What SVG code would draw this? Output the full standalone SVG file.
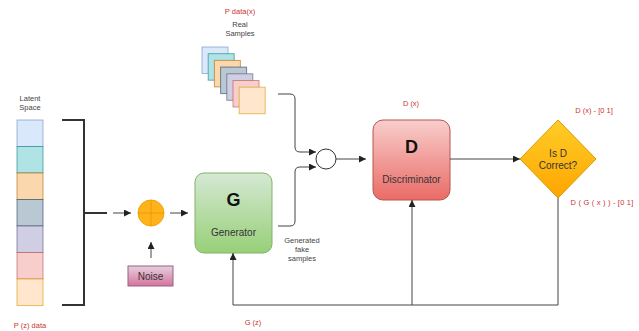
<svg xmlns="http://www.w3.org/2000/svg" width="639" height="331" viewBox="0 0 639 331">
<defs>
<linearGradient id="gG" x1="0" y1="0" x2="0" y2="1"><stop offset="0" stop-color="#d5e8d4"/><stop offset="1" stop-color="#97d077"/></linearGradient>
<linearGradient id="gD" x1="0" y1="0" x2="0" y2="1"><stop offset="0" stop-color="#f8cecc"/><stop offset="1" stop-color="#ea6b66"/></linearGradient>
<linearGradient id="gY" x1="0" y1="0" x2="0" y2="1"><stop offset="0" stop-color="#ffcd28"/><stop offset="1" stop-color="#ffa500"/></linearGradient>
<linearGradient id="gN" x1="0" y1="0" x2="0" y2="1"><stop offset="0" stop-color="#e6d0de"/><stop offset="1" stop-color="#d5739d"/></linearGradient>
<marker id="ar" viewBox="0 0 10 10" refX="10" refY="5" markerWidth="7" markerHeight="7" markerUnits="userSpaceOnUse" orient="auto"><path d="M0,0 L10,5 L0,10 z" fill="#222"/></marker>
</defs>
<style>
text{font-family:"Liberation Sans",Arial,sans-serif;text-anchor:middle}
.s{font-size:7.5px;fill:#444}
.r{font-size:7.5px;fill:#cc3333}
.l{font-size:10px;fill:#333}
.b{font-size:18px;font-weight:bold;fill:#111}
.c{fill:none;stroke:#444;stroke-width:1}
.k{fill:none;stroke:#333;stroke-width:2}
.sq{stroke-width:1;stroke-opacity:0.6}
</style>
<rect width="639" height="331" fill="#fff"/>

<g id="latent">
<text class="s" x="30" y="101">Latent</text>
<text class="s" x="30" y="110">Space</text>
<rect class="sq" x="17" y="120" width="26" height="26.5" fill="#dae8fc" stroke="#6c8ebf"/>
<rect class="sq" x="17" y="146.5" width="26" height="26.5" fill="#b0e3e6" stroke="#0e8088"/>
<rect class="sq" x="17" y="173" width="26" height="26.5" fill="#fad7ac" stroke="#b46504"/>
<rect class="sq" x="17" y="199.5" width="26" height="26.5" fill="#bac8d3" stroke="#23445d"/>
<rect class="sq" x="17" y="226" width="26" height="26.5" fill="#d0cee2" stroke="#56517e"/>
<rect class="sq" x="17" y="252.5" width="26" height="26.5" fill="#f8cecc" stroke="#b85450"/>
<rect class="sq" x="17" y="279" width="26" height="26.5" fill="#ffe6cc" stroke="#d79b00"/>
<text class="r" x="30" y="328">P (z) data</text>
</g>

<g id="real">
<text class="r" x="240" y="14">P data(x)</text>
<text class="s" x="240" y="27">Real</text>
<text class="s" x="240" y="36">Samples</text>
<rect class="sq" x="202" y="47" width="26" height="26.5" fill="#dae8fc" stroke="#6c8ebf"/>
<rect class="sq" x="208.2" y="53.7" width="26" height="26.5" fill="#b0e3e6" stroke="#0e8088"/>
<rect class="sq" x="214.4" y="60.4" width="26" height="26.5" fill="#fad7ac" stroke="#b46504"/>
<rect class="sq" x="220.6" y="67.1" width="26" height="26.5" fill="#bac8d3" stroke="#23445d"/>
<rect class="sq" x="226.8" y="73.8" width="26" height="26.5" fill="#d0cee2" stroke="#56517e"/>
<rect class="sq" x="233" y="80.5" width="26" height="26.5" fill="#f8cecc" stroke="#b85450"/>
<rect class="sq" x="239.2" y="87.2" width="26" height="26.5" fill="#ffe6cc" stroke="#d79b00"/>
</g>

<g id="adder">
<circle cx="151" cy="213" r="13" fill="#ffb31a" stroke="#f0a30a"/>
<path d="M138,213 H164 M151,200 V226" stroke="#e89500" stroke-width="0.8"/>
</g>

<g id="noise">
<rect x="128" y="266" width="45" height="20" fill="url(#gN)" stroke="#996185"/>
<text class="l" x="150.5" y="280">Noise</text>
</g>

<g id="generator">
<rect x="195" y="173" width="77" height="80" rx="9" fill="url(#gG)" stroke="#82b366"/>
<text class="b" x="233.5" y="206">G</text>
<text class="l" x="233.5" y="236">Generator</text>
<text class="s" x="302" y="243">Generated</text>
<text class="s" x="302" y="252">fake</text>
<text class="s" x="302" y="261">samples</text>
</g>

<g id="combine">
<circle cx="326" cy="159" r="10" fill="#fff" stroke="#333"/>
</g>

<g id="discriminator">
<text class="r" x="411" y="106">D (x)</text>
<rect x="373" y="120" width="77" height="80" rx="10" fill="url(#gD)" stroke="#b85450"/>
<text class="b" x="411.5" y="153">D</text>
<text class="l" x="411.5" y="183">Discriminator</text>
</g>

<g id="decision">
<text class="r" x="594" y="113">D (x) - [0 1]</text>
<polygon points="558,120 596,159 558,198 520,159" fill="url(#gY)" stroke="#d79b00"/>
<text class="l" x="558" y="157">Is D</text>
<text class="l" x="558" y="169">Correct?</text>
<text class="r" x="602" y="205" style="letter-spacing:0.2px">D ( G ( x ) ) - [0 1]</text>
</g>

<text class="r" x="253" y="325">G (z)</text>

<g id="connectors">
<path class="k" d="M62,120 H84 V305 H62 M84,213 H107"/>
<path class="c" d="M113,213 H131" marker-end="url(#ar)"/>
<path class="c" d="M170,213 H188" marker-end="url(#ar)"/>
<path class="c" d="M151,258 V242" marker-end="url(#ar)"/>
<path class="c" d="M278,94 H290 Q295,94 295,99 V147 Q295,152 300,152 H316" marker-end="url(#ar)"/>
<path class="c" d="M278,226 H290 Q295,226 295,221 V172 Q295,167 300,167 H316" marker-end="url(#ar)"/>
<path class="c" d="M336,159 H366" marker-end="url(#ar)"/>
<path class="c" d="M450,159 H520" marker-end="url(#ar)"/>
<path class="c" d="M558,198 V305 H233 V253" marker-end="url(#ar)"/>
<path class="c" d="M412,305 V200" marker-end="url(#ar)"/>
</g>
</svg>
